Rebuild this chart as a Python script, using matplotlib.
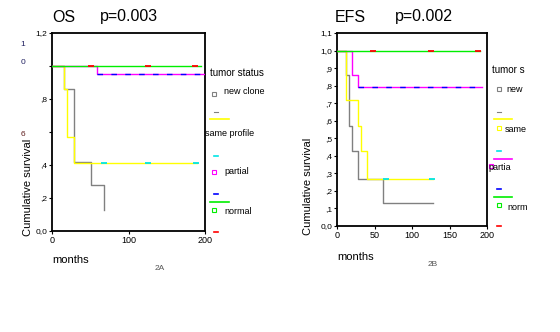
import matplotlib
matplotlib.use("Agg")
import matplotlib.pyplot as plt
from matplotlib.lines import Line2D

plt.rcParams['font.family'] = ['Liberation Sans', 'DejaVu Sans']

# ---------------- data ----------------
# OS (panel 2A)
os_new_t = [0, 16, 29, 51, 68]
os_new_s = [1.0, 0.86, 0.42, 0.28, 0.13]
os_new_end = 68
os_same_t = [0, 16, 20, 29]
os_same_s = [1.0, 0.86, 0.57, 0.41]
os_same_end = 190
os_same_cens = [68, 126, 188]
os_part_t = [0, 59]
os_part_s = [1.0, 0.95]
os_part_end = 199
os_norm_t = [0]
os_norm_s = [1.0]
os_norm_end = 195
os_norm_cens = [51, 126, 187]

# EFS (panel 2B)
efs_new_t = [0, 12, 16, 20, 28, 61]
efs_new_s = [1.0, 0.86, 0.57, 0.43, 0.27, 0.13]
efs_new_end = 128
efs_same_t = [0, 12, 28, 32, 40]
efs_same_s = [1.0, 0.72, 0.57, 0.43, 0.27]
efs_same_end = 128
efs_same_cens = [65, 127]
efs_part_t = [0, 20, 28]
efs_part_s = [1.0, 0.86, 0.79]
efs_part_end = 193
efs_norm_t = [0]
efs_norm_s = [1.0]
efs_norm_end = 191
efs_norm_cens = [48, 125, 188]

os_yticks = [0.0, 0.2, 0.4, 0.6, 0.8, 1.0, 1.2]
os_ylabels = ["0,0", ",2", ",4", "", ",8", "", "1,2"]
efs_yticks = [0.0, 0.1, 0.2, 0.3, 0.4, 0.5, 0.6, 0.7, 0.8, 0.9, 1.0, 1.1]
efs_ylabels = ["0,0", ",1", ",2", ",3", ",4", ",5", ",6", ",7", ",8", ",9", "1,0", "1,1"]
os_xticks = [0, 100, 200]
efs_xticks = [0, 50, 100, 150, 200]

GRAY = "#808080"
YEL = "#ffff00"
MAG = "#ff00ff"
BLUE = "#0000ff"
GRN = "#00ee00"
RED = "#ff0000"
CYAN = "#00e5e5"

W, H = 560, 332
fig = plt.figure(figsize=(W / 100, H / 100), dpi=100)


def fx(px):
    return px / W


def fy(py):
    return 1 - py / H


def axes_px(x0, y0, x1, y1):
    return fig.add_axes([fx(x0), fy(y1), fx(x1) - fx(x0), (y1 - y0) / H])


def step(ax, t, s, end, color, lw=1.0, z=2, **kw):
    xs = list(t) + [end]
    ys = list(s) + [s[-1]]
    ax.step(xs, ys, where='post', color=color, lw=lw, zorder=z, **kw)


def cens(ax, xs, y, color):
    ax.plot(xs, [y] * len(xs), ls='none', marker='_', ms=5, mew=1.3,
            color=color, zorder=6)


def style(ax, xlim, ylim, xt, yt, yl):
    ax.set_xlim(*xlim)
    ax.set_ylim(*ylim)
    ax.set_xticks(xt)
    ax.set_xticklabels([str(v) for v in xt], fontsize=6.5)
    ax.set_yticks(yt)
    ax.set_yticklabels(yl, fontsize=6)
    ax.tick_params(length=2.5, width=0.8, pad=1)
    for sp in ax.spines.values():
        sp.set_linewidth(1.3)
        sp.set_color('black')


# ---------------- OS panel ----------------
ax1 = axes_px(52, 33, 205, 231)
step(ax1, os_new_t, os_new_s, os_new_end, GRAY, z=2)
step(ax1, os_same_t, os_same_s, os_same_end, YEL, z=3)
step(ax1, os_part_t, os_part_s, os_part_end, MAG, z=4)
ax1.plot([os_part_t[-1], os_part_end], [os_part_s[-1]] * 2, color=BLUE,
         lw=1.0, dashes=(4, 6), zorder=5)
step(ax1, os_norm_t, os_norm_s, os_norm_end, GRN, z=5)
cens(ax1, os_norm_cens, os_norm_s[-1], RED)
cens(ax1, os_same_cens, os_same_s[-1], CYAN)
style(ax1, (0, 200), (0, 1.2), os_xticks, os_yticks, os_ylabels)

# ---------------- EFS panel ----------------
ax2 = axes_px(337, 33, 487, 226)
step(ax2, efs_new_t, efs_new_s, efs_new_end, GRAY, z=2)
step(ax2, efs_same_t, efs_same_s, efs_same_end, YEL, z=3)
step(ax2, efs_part_t, efs_part_s, efs_part_end, MAG, z=4)
ax2.plot([efs_part_t[-1], efs_part_end], [efs_part_s[-1]] * 2, color=BLUE,
         lw=1.0, dashes=(4, 6), zorder=5)
step(ax2, efs_norm_t, efs_norm_s, efs_norm_end, GRN, z=5)
cens(ax2, efs_norm_cens, efs_norm_s[-1], RED)
cens(ax2, efs_same_cens, efs_same_s[-1], CYAN)
style(ax2, (0, 200), (0, 1.1), efs_xticks, efs_yticks, efs_ylabels)

# ---------------- titles and labels ----------------
fig.text(fx(52), fy(17), "OS", fontsize=11.5, va='center', ha='left')
fig.text(fx(100), fy(17), "p=0.003", fontsize=11.5, va='center', ha='left')
fig.text(fx(335), fy(17), "EFS", fontsize=11.5, va='center', ha='left')
fig.text(fx(395), fy(17), "p=0.002", fontsize=11.5, va='center', ha='left')

fig.text(fx(28), fy(187), "Cumulative survival", rotation=90, fontsize=8,
         va='center', ha='center')
fig.text(fx(308), fy(186), "Cumulative survival", rotation=90, fontsize=8,
         va='center', ha='center')
fig.text(fx(52), fy(260), "months", fontsize=8, va='center', ha='left')
fig.text(fx(337), fy(257), "months", fontsize=8, va='center', ha='left')
fig.text(fx(160), fy(268), "2A", fontsize=6, va='center', ha='center',
         color='#555555')
fig.text(fx(433), fy(265), "2B", fontsize=6, va='center', ha='center',
         color='#555555')

# stray split tick labels of the OS axis
fig.text(fx(23), fy(45), "1", fontsize=6, va='center', ha='center', color='#202060')
fig.text(fx(23), fy(63), "0", fontsize=6, va='center', ha='center', color='#202060')
fig.text(fx(23), fy(134), "6", fontsize=6, va='center', ha='center', color='#602020')


# ---------------- legends ----------------
def seg(x0, x1, y, color, lw=1.2):
    fig.add_artist(Line2D([fx(x0), fx(x1)], [fy(y), fy(y)], color=color, lw=lw))


def sq(x, y, color):
    fig.add_artist(Line2D([fx(x)], [fy(y)], marker='s', ms=3.2, mfc='none',
                          mec=color, mew=0.8, ls='none'))


def txt(x, y, s, size=6.5):
    fig.text(fx(x), fy(y), s, fontsize=size, va='center', ha='left')


# OS legend
txt(210, 73, "tumor status", 7)
sq(214, 94, GRAY)
txt(224, 91, "new clone")
seg(214, 218, 112, GRAY, 0.8)
seg(210, 229, 119, YEL)
txt(205, 134, "same profile")
seg(214, 218, 156, CYAN)
sq(214, 172, MAG)
txt(224, 172, "partial")
seg(214, 218, 194, BLUE)
seg(210, 229, 202, GRN)
sq(214, 210, GRN)
txt(224, 211, "normal")
seg(214, 218, 232, RED)

# EFS legend
txt(492, 70, "tumor s", 7)
sq(499, 89, GRAY)
txt(506, 90, "new")
seg(497, 501, 112, GRAY, 0.8)
seg(494, 512, 119, YEL)
sq(499, 128, YEL)
txt(505, 130, "same")
seg(497, 501, 151, CYAN)
seg(494, 512, 159, MAG)
sq(491, 166, MAG)
txt(488, 168, "partia")
seg(497, 501, 189, BLUE)
seg(494, 512, 197, GRN)
sq(499, 205, GRN)
txt(507, 208, "norm")
seg(497, 501, 226, RED)

fig.savefig("out.png", dpi=100)
